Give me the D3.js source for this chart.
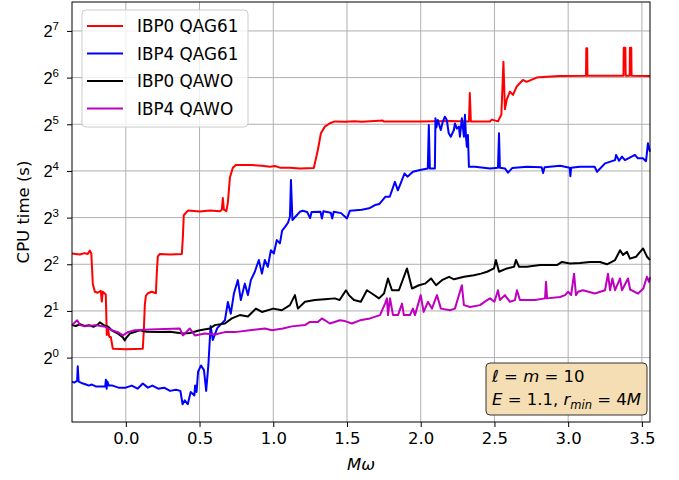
<!DOCTYPE html>
<html>
<head>
<meta charset="utf-8">
<script src="https://cdn.jsdelivr.net/npm/d3@7"></script>
<style>
  body { margin: 0; background: #fff; }
  svg { font-family: "DejaVu Sans", sans-serif; }
</style>
</head>
<body>
<div id="chart"></div>
<script>
// [M omega, CPU time in seconds]
const ibp0Qag61 = [
  [-0.365,4.69],[-0.312,4.62],[-0.28,4.72],[-0.258,4.66],[-0.244,4.9],[-0.234,4.69],[-0.224,3.0],[-0.21,2.66],
  [-0.19,2.62],[-0.17,2.7],[-0.163,2.3],[-0.156,2.66],[-0.136,2.55],[-0.129,1.4],[-0.122,1.55],[-0.112,1.36],
  [-0.102,1.36],[-0.088,1.14],[0.0,1.13],[0.115,1.14],[0.122,1.5],[0.129,2.2],[0.136,2.5],[0.149,2.6],
  [0.176,2.66],[0.204,2.6],[0.21,3.5],[0.217,4.5],[0.231,4.66],[0.299,4.62],[0.38,4.66],[0.387,6.0],
  [0.393,8.28],[0.421,8.88],[0.502,8.75],[0.57,8.88],[0.638,8.8],[0.651,9.0],[0.658,10.7],[0.665,9.0],
  [0.682,8.8],[0.692,10],[0.706,14.5],[0.726,16.8],[0.746,17.5],[0.841,17.5],[0.923,17.3],[0.977,17.0],
  [1.011,17.2],[1.045,16.8],[1.113,16.8],[1.18,16.6],[1.275,16.7],[1.303,22],[1.323,28],[1.35,30.9],
  [1.384,32.5],[1.418,33.4],[1.486,33.2],[1.55,33.5],[1.6,33.2],[1.744,33.8],[1.75,33.3],[1.825,33.3],
  [2.0,33.4],[2.2,33.6],[2.327,33.4],[2.333,50.9],[2.34,33.4],[2.469,33.4],[2.483,34.3],[2.524,33.4],
  [2.547,37],[2.561,81],[2.571,40],[2.583,45.9],[2.605,52],[2.626,49.5],[2.651,56.1],[2.693,61.8],
  [2.718,60.1],[2.786,64],[2.854,64.9],[2.944,65.5],[3.121,65.8],[3.123,99],[3.129,99],[3.131,65.8],
  [3.375,65.8],[3.377,99.7],[3.388,99.7],[3.39,65.8],[3.417,65.8],[3.419,99.7],[3.428,99.7],[3.43,65.8],
  [3.555,65.5]
];

const ibp4Qag61 = [
  [-0.365,0.70],[-0.35,0.69],[-0.33,0.71],[-0.326,0.88],[-0.32,0.70],[-0.29,0.68],[-0.27,0.67],[-0.25,0.66],
  [-0.23,0.67],[-0.2,0.65],[-0.14,0.65],[-0.135,0.72],[-0.13,0.63],[-0.125,0.70],[-0.115,0.66],[-0.09,0.66],
  [-0.05,0.64],[0.0,0.64],[0.04,0.66],[0.08,0.63],[0.115,0.68],[0.15,0.64],[0.18,0.66],[0.22,0.63],
  [0.26,0.64],[0.3,0.61],[0.34,0.62],[0.37,0.61],[0.385,0.50],[0.4,0.53],[0.42,0.50],[0.44,0.60],
  [0.465,0.57],[0.47,0.66],[0.48,0.60],[0.49,0.81],[0.51,0.89],[0.53,0.83],[0.545,0.61],[0.56,0.9],
  [0.575,1.6],[0.59,1.3],[0.62,1.55],[0.672,1.74],[0.692,2.28],[0.712,1.92],[0.733,2.59],[0.76,3.16],
  [0.78,2.35],[0.807,3.0],[0.828,2.53],[0.848,3.16],[0.875,3.58],[0.902,4.26],[0.923,3.48],[0.943,4.26],
  [0.963,3.85],[0.984,4.93],[1.004,4.69],[1.024,5.73],[1.045,5.46],[1.06,6.6],[1.08,6.97],[1.1,7.41],
  [1.113,8.1],[1.12,13.96],[1.13,7.71],[1.15,8.1],[1.18,8.72],[1.2,8.86],[1.23,8.7],[1.25,7.94],
  [1.26,8.7],[1.32,8.72],[1.33,7.9],[1.34,8.8],[1.39,8.6],[1.4,7.9],[1.41,8.72],[1.46,8.55],
  [1.5,7.9],[1.52,8.86],[1.6,9.0],[1.65,9.18],[1.69,9.64],[1.72,9.8],[1.76,10.9],[1.79,10.9],
  [1.825,13.6],[1.845,12.0],[1.86,13.0],[1.89,15.4],[1.91,14.7],[1.947,15.8],[1.995,16.2],[2.048,16.6],
  [2.055,31.6],[2.062,16.6],[2.096,16.6],[2.1,35.0],[2.106,30.5],[2.116,34.1],[2.136,29.4],[2.15,33.3],
  [2.164,35.8],[2.177,34.1],[2.19,28.0],[2.204,26.6],[2.225,29.4],[2.232,32.4],[2.245,30.0],[2.259,30.9],
  [2.266,26.6],[2.279,35.0],[2.293,26.6],[2.3,36.8],[2.307,26.6],[2.313,22.9],[2.32,27.3],[2.327,17.0],
  [2.368,17.0],[2.47,16.6],[2.524,16.8],[2.531,28.0],[2.537,16.8],[2.571,16.6],[2.592,15.6],[2.62,16.7],
  [2.72,17.0],[2.82,16.9],[2.83,15.5],[2.84,16.9],[2.946,17.3],[3.01,16.8],[3.015,14.8],[3.02,16.8],
  [3.08,17.0],[3.18,17.0],[3.196,15.8],[3.25,17.9],[3.318,18.8],[3.325,20.3],[3.345,18.6],[3.365,19.8],
  [3.385,18.8],[3.453,20.3],[3.473,19.3],[3.507,19.3],[3.528,18.5],[3.541,24.1],[3.555,21.3]
];

const ibp0Qawo = [
  [-0.365,1.62],[-0.34,1.60],[-0.31,1.64],[-0.28,1.60],[-0.25,1.62],[-0.22,1.58],[-0.19,1.63],[-0.176,1.69],
  [-0.15,1.62],[-0.12,1.58],[-0.095,1.50],[-0.054,1.43],[-0.02,1.35],[-0.007,1.29],[0.0,1.33],[0.027,1.43],
  [0.095,1.50],[0.14,1.47],[0.23,1.46],[0.3,1.47],[0.387,1.43],[0.434,1.44],[0.502,1.50],[0.57,1.54],
  [0.604,1.62],[0.672,1.66],[0.719,1.79],[0.773,1.88],[0.828,1.84],[0.882,2.07],[0.923,1.97],[1.0,2.07],
  [1.058,2.02],[1.113,2.18],[1.147,2.53],[1.167,2.07],[1.215,2.29],[1.282,2.35],[1.35,2.38],[1.418,2.41],
  [1.45,2.35],[1.493,2.72],[1.513,2.53],[1.547,2.35],[1.594,2.29],[1.635,2.72],[1.669,2.59],[1.717,2.41],
  [1.751,2.59],[1.778,3.24],[1.805,2.72],[1.852,2.72],[1.907,3.76],[1.941,2.79],[1.988,2.93],[2.029,3.0],
  [2.07,3.24],[2.104,2.93],[2.144,3.16],[2.192,3.32],[2.226,3.2],[2.294,3.32],[2.361,3.40],[2.409,3.48],
  [2.45,3.58],[2.497,3.76],[2.51,4.26],[2.531,3.58],[2.585,3.76],[2.633,3.85],[2.646,4.26],[2.667,3.85],
  [2.72,3.85],[2.809,3.95],[2.877,3.95],[2.924,3.95],[2.958,4.14],[3.012,4.05],[3.08,4.08],[3.148,4.14],
  [3.216,4.14],[3.263,4.0],[3.318,4.26],[3.352,4.93],[3.372,4.6],[3.399,4.81],[3.419,4.35],[3.46,4.47],
  [3.508,5.06],[3.535,4.47],[3.555,4.26]
];

const ibp4Qawo = [
  [-0.365,1.62],[-0.33,1.74],[-0.31,1.62],[-0.278,1.59],[-0.21,1.62],[-0.14,1.58],[-0.095,1.50],[-0.054,1.46],
  [-0.02,1.39],[0.014,1.46],[0.061,1.50],[0.163,1.52],[0.265,1.53],[0.366,1.54],[0.387,1.39],[0.434,1.54],
  [0.468,1.39],[0.536,1.43],[0.604,1.41],[0.672,1.46],[0.74,1.46],[0.841,1.50],[0.943,1.54],[0.99,1.50],
  [1.065,1.54],[1.126,1.59],[1.215,1.62],[1.249,1.70],[1.303,1.70],[1.33,1.79],[1.384,1.66],[1.452,1.74],
  [1.486,1.72],[1.533,1.66],[1.588,1.74],[1.656,1.79],[1.724,1.88],[1.758,2.23],[1.771,2.41],[1.778,1.88],
  [1.792,2.41],[1.812,1.88],[1.846,1.88],[1.873,2.23],[1.886,1.88],[1.927,1.88],[1.947,2.07],[1.961,1.88],
  [2.0,2.53],[2.02,1.97],[2.049,2.29],[2.076,2.07],[2.11,2.53],[2.137,2.07],[2.198,2.02],[2.232,2.07],
  [2.279,2.93],[2.293,2.18],[2.334,2.12],[2.402,2.18],[2.45,2.35],[2.47,2.41],[2.5,2.29],[2.524,2.72],
  [2.537,2.35],[2.571,2.53],[2.605,2.29],[2.639,2.35],[2.653,2.72],[2.673,2.35],[2.775,2.35],[2.843,2.41],
  [2.85,3.08],[2.857,2.41],[2.945,2.46],[2.979,2.53],[3.0,2.66],[3.02,2.53],[3.04,3.48],[3.053,2.53],
  [3.067,2.66],[3.1,2.72],[3.181,2.59],[3.25,2.72],[3.27,3.48],[3.284,2.72],[3.3,3.24],[3.318,2.72],
  [3.352,3.24],[3.365,2.72],[3.406,3.24],[3.42,2.75],[3.474,2.59],[3.51,2.79],[3.534,3.32],[3.548,3.08],
  [3.555,3.3]
];

const seriesNames = ["IBP0 QAG61", "IBP4 QAG61", "IBP0 QAWO", "IBP4 QAWO"];
const seriesColors = ["#ff0000", "#0000ff", "#000000", "#bf00bf"];
const xTicks = [0, 0.5, 1.0, 1.5, 2.0, 2.5, 3.0, 3.5];
const yTickExponents = [0, 1, 2, 3, 4, 5, 6, 7];

const width = 679, height = 480;
const margin = { top: 2, right: 29, bottom: 58, left: 72 };
const w = width - margin.left - margin.right,
      h = height - margin.top - margin.bottom;

const svg = d3.select("#chart").append("svg")
  .attr("width", width)
  .attr("height", height);

const chart = svg.append("g")
  .attr("transform", `translate(${margin.left},${margin.top})`);

const x = d3.scaleLinear().domain([-0.365, 3.555]).range([0, w]);
const y = d3.scaleLog().base(2).domain([Math.pow(2, -1.38), Math.pow(2, 7.62)]).range([h, 0]);

// grid
chart.append("g")
  .selectAll("line")
  .data(xTicks)
  .join("line")
    .attr("x1", d => x(d)).attr("x2", d => x(d))
    .attr("y1", 0).attr("y2", h)
    .attr("stroke", "#b0b0b0").attr("stroke-width", 1);

chart.append("g")
  .selectAll("line")
  .data(yTickExponents)
  .join("line")
    .attr("x1", 0).attr("x2", w)
    .attr("y1", d => y(Math.pow(2, d))).attr("y2", d => y(Math.pow(2, d)))
    .attr("stroke", "#b0b0b0").attr("stroke-width", 1);

// axes
const xAxis = chart.append("g")
  .attr("transform", `translate(0,${h})`)
  .call(d3.axisBottom(x).tickValues(xTicks).tickFormat(d3.format(".1f")).tickSizeOuter(0).tickSize(5).tickPadding(5));
xAxis.select(".domain").remove();
xAxis.selectAll("text").attr("font-size", 16.5).attr("font-family", "DejaVu Sans").attr("fill", "#000");

const yAxis = chart.append("g")
  .call(d3.axisLeft(y).tickValues(yTickExponents.map(e => Math.pow(2, e))).tickFormat("").tickSizeOuter(0).tickSize(5));
yAxis.select(".domain").remove();

yAxis.selectAll(".tick").each(function(d) {
  const t = d3.select(this).append("text")
    .attr("x", -13)
    .attr("y", 6)
    .attr("text-anchor", "end")
    .attr("font-size", 16.5)
    .attr("fill", "#000");
  t.append("tspan").text("2");
  t.append("tspan")
    .attr("dy", -7)
    .attr("font-size", 11.5)
    .text(Math.round(Math.log2(d)));
});

// lines
const line = d3.line()
  .x(d => x(d[0]))
  .y(d => y(d[1]));

const allSeries = [ibp0Qag61, ibp4Qag61, ibp0Qawo, ibp4Qawo];
const plot = chart.append("g");
allSeries.forEach((s, i) => {
  plot.append("path")
    .datum(s)
    .attr("fill", "none")
    .attr("stroke", seriesColors[i])
    .attr("stroke-width", 2)
    .attr("stroke-linejoin", "round")
    .attr("d", line);
});

// frame
chart.append("rect")
  .attr("x", 0).attr("y", 0)
  .attr("width", w).attr("height", h)
  .attr("fill", "none")
  .attr("stroke", "#000")
  .attr("stroke-width", 1);

// axis labels
chart.append("text")
  .attr("x", w / 2)
  .attr("y", h + 48)
  .attr("text-anchor", "middle")
  .attr("font-size", 16.5)
  .attr("font-style", "italic")
  .text("Mω");

chart.append("text")
  .attr("transform", "rotate(-90)")
  .attr("x", -h / 2)
  .attr("y", -43)
  .attr("text-anchor", "middle")
  .attr("font-size", 16.5)
  .text("CPU time (s)");

// legend
const legend = chart.append("g").attr("transform", "translate(10,8)");
legend.append("rect")
  .attr("width", 166).attr("height", 117)
  .attr("rx", 4)
  .attr("fill", "#fff").attr("fill-opacity", 0.8)
  .attr("stroke", "#cccccc");

seriesNames.forEach((name, i) => {
  const ly = 16 + i * 27.5;
  legend.append("line")
    .attr("x1", 5).attr("x2", 41)
    .attr("y1", ly).attr("y2", ly)
    .attr("stroke", seriesColors[i])
    .attr("stroke-width", 2);
  legend.append("text")
    .attr("x", 55).attr("y", ly + 6)
    .attr("font-size", 16.8)
    .text(name);
});

// annotation box
const note = chart.append("g").attr("transform", `translate(${w - 164},${h - 59})`);
note.append("rect")
  .attr("width", 161).attr("height", 52)
  .attr("rx", 4)
  .attr("fill", "#f5deb3")
  .attr("stroke", "#333")
  .attr("stroke-width", 1);

const l1 = note.append("text").attr("x", 6).attr("y", 19).attr("font-size", 16.5);
l1.append("tspan").attr("font-style", "italic").text("ℓ");
l1.append("tspan").text(" = ");
l1.append("tspan").attr("font-style", "italic").text("m");
l1.append("tspan").text(" = 10");

const l2 = note.append("text").attr("x", 6).attr("y", 42).attr("font-size", 16.5);
l2.append("tspan").attr("font-style", "italic").text("E");
l2.append("tspan").text(" = 1.1, ");
l2.append("tspan").attr("font-style", "italic").text("r");
l2.append("tspan").attr("font-style", "italic").attr("font-size", 11.5).attr("dy", 4).text("min");
l2.append("tspan").attr("dy", -4).text(" = 4");
l2.append("tspan").attr("font-style", "italic").text("M");
</script>
</body>
</html>
